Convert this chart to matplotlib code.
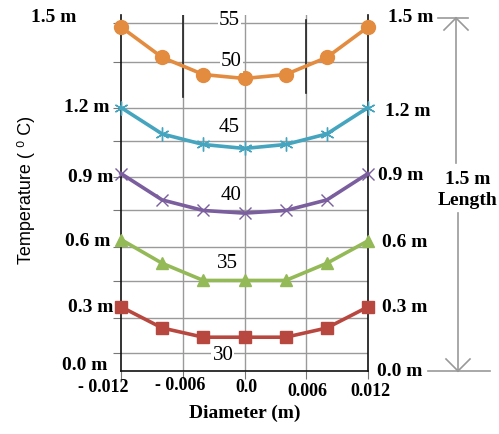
import numpy as np
import matplotlib
matplotlib.use("Agg")
import matplotlib.pyplot as plt

# diameter positions of the measured points (m)
diameter = [-0.012, -0.008, -0.004, 0.0, 0.004, 0.008, 0.012]

# temperature profiles (deg C) at each length position
t_15 = [54.7, 52.4, 51.1, 50.8, 51.1, 52.4, 54.7]
t_12 = [48.6, 46.6, 45.8, 45.5, 45.8, 46.6, 48.6]
t_09 = [43.6, 41.6, 40.8, 40.6, 40.8, 41.6, 43.6]
t_06 = [38.6, 36.8, 35.5, 35.5, 35.5, 36.8, 38.5]
t_03 = [33.5, 31.9, 31.2, 31.2, 31.2, 31.9, 33.5]

lengths = ["1.5 m", "1.2 m", "0.9 m", "0.6 m", "0.3 m", "0.0 m"]
temp_labels = ["55", "50", "45", "40", "35", "30"]
grid_levels = [55.0, 52.05, 48.56, 46.06, 43.34, 40.84, 38.03, 35.46, 32.66, 30.0]
xtick_vals = [-0.012, -0.006, 0.0, 0.006, 0.012]
xtick_text = ["- 0.012", "- 0.006", "0.0", "0.006", "0.012"]

W, H = 499, 434
fig = plt.figure(figsize=(W / 100, H / 100), dpi=100)
ax = fig.add_axes([121 / W, 1 - 371 / H, 247 / W, 356 / H])


def px(x, y):
    return x / W, 1 - y / H


ax.set_xlim(-0.012, 0.012)
ax.set_ylim(28.64, 55.61)

for g in grid_levels:
    ax.axhline(g, color="#9a9a9a", lw=1, zorder=1)
for v in [-0.006, 0.0, 0.006]:
    ax.axvline(v, color="#9a9a9a", lw=1, zorder=1)
ax.axvline(-0.006, ymin=0.77, ymax=1.0, color="#222222", lw=1.2, zorder=1)
ax.axvline(0.006, ymin=0.78, ymax=0.985, color="#222222", lw=1.2, zorder=1)

serif_b = dict(family="Liberation Serif", fontweight="bold")

series = [
    (t_15, "#E38B3F", "o", 10, 1.0),
    (t_12, "#45A5BF", (6, 2, 0), 10, 1.0),
    (t_09, "#7A5E9E", "x", 9, 1.0),
    (t_06, "#94B957", "^", 9, 1.0),
    (t_03, "#B8483F", "s", 8, 1.0),
]
for vals, col, mk, ms, mw in series:
    ax.plot(diameter, vals, color=col, lw=2.6, marker=mk, ms=ms,
            mec=col, mfc=col, mew=mw, zorder=3, clip_on=False)

# temperature values written inside the plot
temp_y = [55.2, 52.05, 47.05, 41.97, 36.82, 29.85]
temp_x = [-0.0015, -0.0013, -0.0015, -0.0013, -0.0017, -0.0021]
for lab, tx, ty in zip(temp_labels, temp_x, temp_y):
    ax.text(tx, ty, lab, ha="center", va="center", fontsize=15,
            family="Liberation Serif", zorder=4,
            bbox=dict(boxstyle="square,pad=0.05", fc="white", ec="none"))

ax.spines["top"].set_visible(False)
for s in ["left", "right", "bottom"]:
    ax.spines[s].set_color("#111111")
    ax.spines[s].set_linewidth(1.2)
ax.set_yticks(grid_levels)
ax.set_yticklabels([])
ax.tick_params(axis="y", length=6, color="#777777")
ax.set_xticks(xtick_vals)
ax.set_xticklabels([])
ax.tick_params(axis="x", length=6, color="#777777")

# x tick labels
xl_pos = [(103, 388), (180, 385), (246, 387), (307, 392), (370, 392)]
for t, (x, y) in zip(xtick_text, xl_pos):
    fig.text(*px(x, y), t, ha="center", va="center", fontsize=13, **serif_b)

# length labels left and right
left_pos = [(76, 18), (110, 107), (113, 178), (110, 241), (113, 307), (107, 366)]
right_pos = [(388, 18), (385, 111), (378, 175), (382, 243), (382, 307), (377, 371)]
for lab, (lx, ly), (rx, ry) in zip(lengths, left_pos, right_pos):
    fig.text(*px(lx, ly), lab, ha="right", va="center", fontsize=14, **serif_b)
    fig.text(*px(rx, ry), lab, ha="left", va="center", fontsize=14, **serif_b)

# length annotation on the right
fig.add_artist(plt.Line2D([438 / W, 468 / W], [1 - 18 / H] * 2,
                          color="#999999", lw=1.2))
fig.add_artist(plt.Line2D([428 / W, 490 / W], [1 - 371 / H] * 2,
                          color="#999999", lw=1.2))
fig.add_artist(plt.Line2D([456 / W] * 2, [1 - 18 / H, 1 - 163 / H],
                          color="#999999", lw=1.2))
fig.add_artist(plt.Line2D([458 / W] * 2, [1 - 213 / H, 1 - 371 / H],
                          color="#999999", lw=1.2))
for (x0, y0, x1, y1) in [(444, 30, 456, 18), (468, 30, 456, 18),
                         (446, 359, 458, 371), (470, 359, 458, 371)]:
    fig.add_artist(plt.Line2D([x0 / W, x1 / W], [1 - y0 / H, 1 - y1 / H],
                              color="#999999", lw=1.2))
fig.text(*px(468, 180), "1.5 m", ha="center", va="center", fontsize=14, **serif_b)
fig.text(*px(468, 201), "Length", ha="center", va="center", fontsize=14, **serif_b)

fig.text(*px(26, 190), "Temperature ( \u2070 C)", rotation=90, ha="center",
         va="center", fontsize=13, family=["Liberation Sans", "DejaVu Sans"])
fig.text(*px(245, 413), "Diameter (m)", ha="center", va="center",
         fontsize=14, **serif_b)

fig.savefig("out.png", dpi=100)
